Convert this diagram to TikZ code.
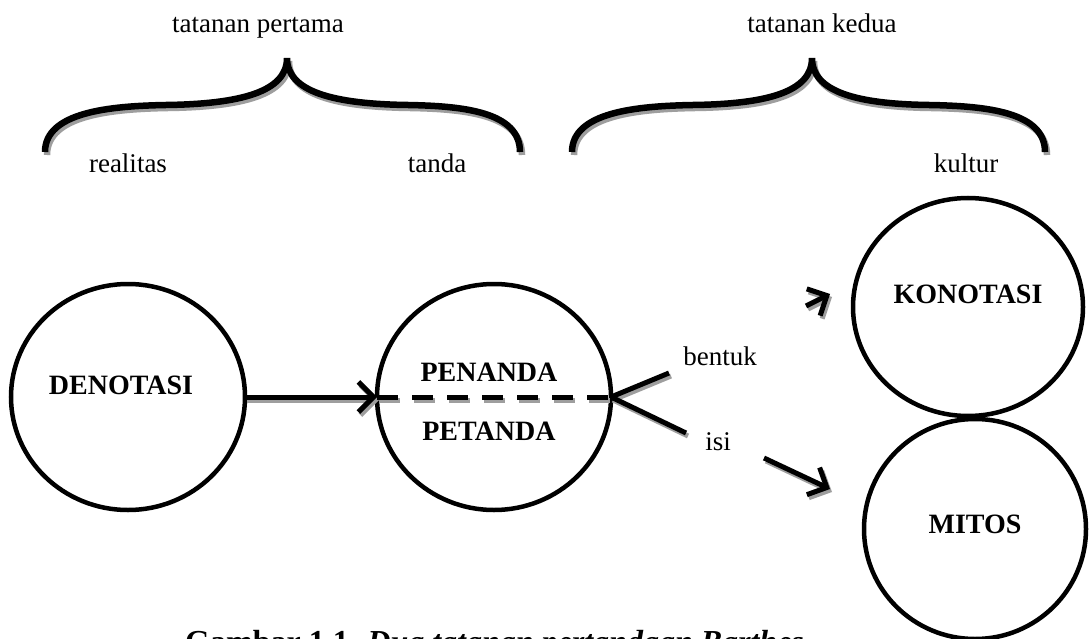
\documentclass[tikz,border=0pt]{standalone}
\usepackage{fontspec}
\setmainfont{Liberation Serif}
\usetikzlibrary{arrows.meta,shapes.geometric}
\begin{document}
\begin{tikzpicture}[x=1pt,y=-1pt,
  lbl/.style={font=\fontsize{27}{32}\selectfont, inner sep=0pt, anchor=base},
  bld/.style={font=\fontsize{28}{33}\selectfont\bfseries, inner sep=0pt, anchor=base},
  ring/.style={draw, line width=4.5pt, ellipse, inner sep=0pt, outer sep=0pt},
  sh/.style={draw=black!38, transform canvas={xshift=2pt,yshift=-3pt}},
  brace/.style={line width=6.5pt},
  conn/.style={line width=5pt},
  tip/.style={-{Straight Barb[length=15pt,width=30pt]}}]
\clip (0,0) rectangle (1091,639);
\fill[white] (0,0) rectangle (1091,639);

% top labels
\node[lbl] (t1) at (258,33) {tatanan pertama};
\node[lbl] (t2) at (822,33) {tatanan kedua};
\node[lbl] (real) at (128,172) {realitas};
\node[lbl] (tanda) at (437,172) {tanda};
\node[lbl] (kult) at (966,172) {kultur};

% braces
\def\bracea{(45,152) .. controls (45,112) and (110,106) .. (166,105)
  .. controls (240,104) and (287,92) .. (287,58)
  .. controls (287,92) and (334,104) .. (408,105)
  .. controls (464,106) and (520,112) .. (520,152)}
\def\braceb{(572,152) .. controls (572,112) and (637,106) .. (693,105)
  .. controls (767,104) and (812,92) .. (812,58)
  .. controls (812,92) and (857,104) .. (929,105)
  .. controls (987,106) and (1045,112) .. (1045,152)}
\draw[brace,sh] \bracea;
\draw[brace] \bracea;
\draw[brace,sh] \braceb;
\draw[brace] \braceb;

% circles
\node[ring, minimum width=234pt, minimum height=226pt] (deno) at (128,397) {};
\node[ring, minimum width=234pt, minimum height=226pt] (pen) at (494,397) {};
\node[ring, minimum width=230pt, minimum height=218pt] (kon) at (968,307) {};
\node[ring, minimum width=222pt, minimum height=220pt] (mit) at (975,529) {};

% circle texts
\node[bld] (tdeno) at (121,394) {DENOTASI};
\node[bld] (tpen) at (489,381) {PENANDA};
\node[bld] (tpet) at (489,440) {PETANDA};
\node[bld] (tkon) at (968,303) {KONOTASI};
\node[bld] (tmit) at (975,533) {MITOS};

% connectors
\coordinate (bend) at (669,373);
\coordinate (iend) at (686,433);
\coordinate (ks) at (806,306);
\coordinate (ke) at (830,294);
\coordinate (ms) at (764,458);
\coordinate (me) at (830,489);

\draw[conn,tip,sh] (deno.east) -- (pen.west);
\draw[conn,sh, dash pattern=on 21pt off 14pt] (pen.west) -- (pen.east);
\draw[conn,sh] (pen.east) -- (bend);
\draw[conn,sh] (pen.east) -- (iend);
\draw[conn,tip,sh] (ks) -- (ke);
\draw[conn,tip,sh] (ms) -- (me);

\draw[conn,tip] (deno.east) -- (pen.west);
\draw[conn, dash pattern=on 21pt off 14pt] (pen.west) -- (pen.east);
\draw[conn] (pen.east) -- (bend);
\draw[conn] (pen.east) -- (iend);
\draw[conn,tip] (ks) -- (ke);
\draw[conn,tip] (ms) -- (me);

\node[lbl] (bentuk) at (720,365) {bentuk};
\node[lbl] (isi) at (718,450) {isi};

% caption
\node[font=\fontsize{32}{38}\selectfont\bfseries, inner sep=0pt, anchor=base west] (cap) at (185,652)
  {Gambar 1.1. \textit{Dua tatanan pertandaan Barthes}};
\end{tikzpicture}
\end{document}
